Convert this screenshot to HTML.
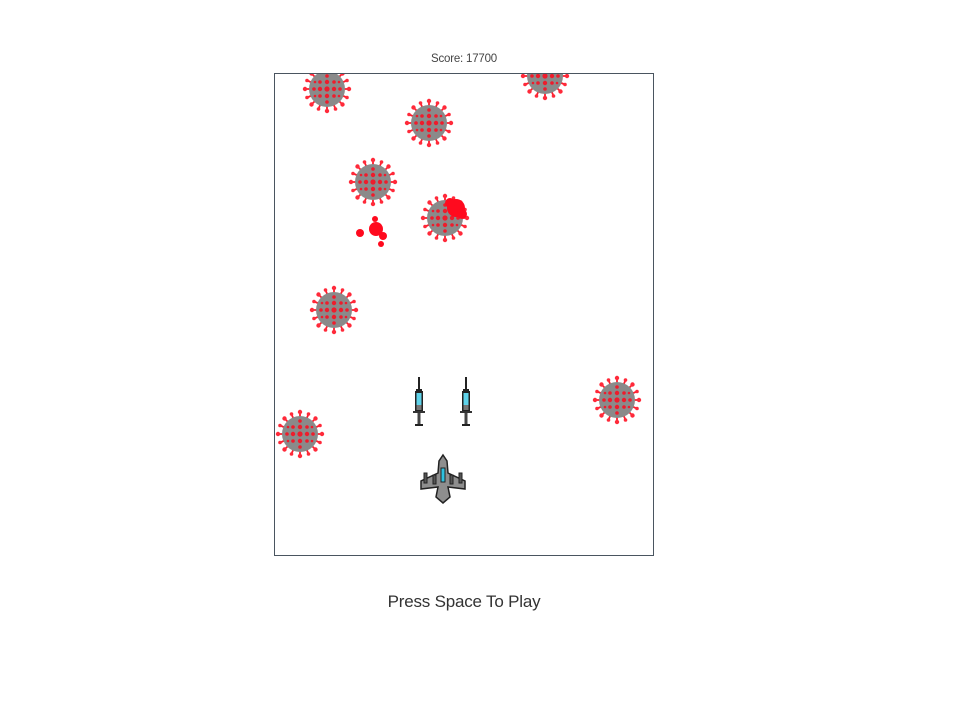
<!DOCTYPE html>
<html><head><meta charset="utf-8">
<style>
html,body{margin:0;padding:0;background:#fff;width:960px;height:720px;overflow:hidden;font-family:"Liberation Sans",sans-serif;}
#score{position:absolute;left:274px;width:380px;top:53px;text-align:center;font-size:11.5px;color:#444;letter-spacing:-0.2px;}
#msg{position:absolute;left:274px;width:380px;top:592px;text-align:center;font-size:17px;color:#333;letter-spacing:-0.2px;}
svg{position:absolute;left:0;top:0;}
</style></head>
<body>
<div id="score">Score: 17700</div>
<svg width="960" height="720">
<defs>
<clipPath id="clip"><rect x="275" y="74" width="378" height="481"/></clipPath>
<g id="virus">
  <g stroke="#ff1a2a" stroke-width="1.8">
    <line x1="0" y1="-23" x2="0" y2="23"/><line x1="-23" y1="0" x2="23" y2="0"/>
    <line x1="-16" y1="-16" x2="16" y2="16"/><line x1="-16" y1="16" x2="16" y2="-16"/>
    <line x1="-9" y1="-21" x2="9" y2="21"/><line x1="-21" y1="-9" x2="21" y2="9"/>
    <line x1="9" y1="-21" x2="-9" y2="21"/><line x1="-21" y1="9" x2="21" y2="-9"/>
  </g>
  <g fill="#ff2a3a">
    <circle cx="0" cy="-22" r="2.2"/><circle cx="0" cy="22" r="2.2"/><circle cx="-22" cy="0" r="2.2"/><circle cx="22" cy="0" r="2.2"/>
    <circle cx="-15.5" cy="-15.5" r="2.2"/><circle cx="15.5" cy="15.5" r="2.2"/><circle cx="-15.5" cy="15.5" r="2.2"/><circle cx="15.5" cy="-15.5" r="2.2"/>
    <circle cx="-8.5" cy="-20" r="1.8"/><circle cx="8.5" cy="20" r="1.8"/><circle cx="8.5" cy="-20" r="1.8"/><circle cx="-8.5" cy="20" r="1.8"/>
    <circle cx="-20" cy="-8.5" r="1.8"/><circle cx="20" cy="8.5" r="1.8"/><circle cx="-20" cy="8.5" r="1.8"/><circle cx="20" cy="-8.5" r="1.8"/>
  </g>
  <circle r="18" fill="#8a8a8a"/>
  <g fill="#ee1c2c">
    <circle cx="0" cy="0" r="2.6"/><circle cx="-7" cy="0" r="2.2"/><circle cx="7" cy="0" r="2.2"/><circle cx="0" cy="-7" r="2.2"/><circle cx="0" cy="7" r="2.2"/>
    <circle cx="-13" cy="0" r="1.8"/><circle cx="13" cy="0" r="1.8"/><circle cx="0" cy="-13" r="1.8"/><circle cx="0" cy="13" r="1.8"/>
    <circle cx="-7" cy="-7" r="1.8"/><circle cx="7" cy="-7" r="1.8"/><circle cx="-7" cy="7" r="1.8"/><circle cx="7" cy="7" r="1.8"/>
    <circle cx="-12" cy="-7" r="1.3"/><circle cx="12" cy="-7" r="1.3"/><circle cx="-12" cy="7" r="1.3"/><circle cx="12" cy="7" r="1.3"/>
  </g>
</g>
<g id="syringe">
  <rect x="-1" y="-25" width="2" height="13" fill="#222"/>
  <rect x="-3" y="-13" width="6" height="2" fill="#222"/>
  <rect x="-4" y="-11" width="8" height="20" fill="#222"/>
  <rect x="-2.5" y="-9" width="5" height="12" fill="#5fd3ea"/>
  <rect x="-2.5" y="3" width="5" height="5" fill="#777"/>
  <rect x="-6" y="9" width="12" height="2" fill="#333"/>
  <rect x="-1.5" y="11" width="3" height="12" fill="#444"/>
  <rect x="-4" y="22" width="8" height="2" fill="#222"/>
</g>
</defs>
<rect x="274.5" y="73.5" width="379" height="482" fill="#fff" stroke="#4a5560" stroke-width="1"/>
<g clip-path="url(#clip)">
  <use href="#virus" x="327" y="89"/>
  <use href="#virus" x="545" y="76"/>
  <use href="#virus" x="429" y="123"/>
  <use href="#virus" x="373" y="182"/>
  <use href="#virus" x="445" y="218"/>
  <use href="#virus" x="334" y="310"/>
  <use href="#virus" x="617" y="400"/>
  <use href="#virus" x="300" y="434"/>
  <g fill="#ff0a1e">
    <circle cx="456" cy="208" r="9"/><circle cx="450" cy="203" r="5"/><circle cx="462" cy="214" r="5"/>
    <circle cx="376" cy="229" r="7"/><circle cx="375" cy="219" r="3"/><circle cx="383" cy="236" r="4"/>
    <circle cx="360" cy="233" r="4"/><circle cx="381" cy="244" r="3"/>
  </g>
  <use href="#syringe" x="419" y="402"/>
  <use href="#syringe" x="466" y="402"/>
  <g transform="translate(443,479)">
    <polygon points="0,-24 4,-18 5,-6 22,2 22,10 5,8 7,18 0,24 -7,18 -5,8 -22,10 -22,2 -5,-6 -4,-18" fill="#8e8e8e" stroke="#222" stroke-width="1.5"/>
    <rect x="-19" y="-6" width="3" height="10" fill="#555" stroke="#222" stroke-width="1"/>
    <rect x="16" y="-6" width="3" height="10" fill="#555" stroke="#222" stroke-width="1"/>
    <rect x="-10" y="-4" width="3" height="9" fill="#555" stroke="#222" stroke-width="1"/>
    <rect x="7" y="-4" width="3" height="9" fill="#555" stroke="#222" stroke-width="1"/>
    <rect x="-2" y="-11" width="4" height="14" fill="#2ec2e0" stroke="#222" stroke-width="1"/>
  </g>
</g>
</svg>
<div id="msg">Press Space To Play</div>
</body></html>
